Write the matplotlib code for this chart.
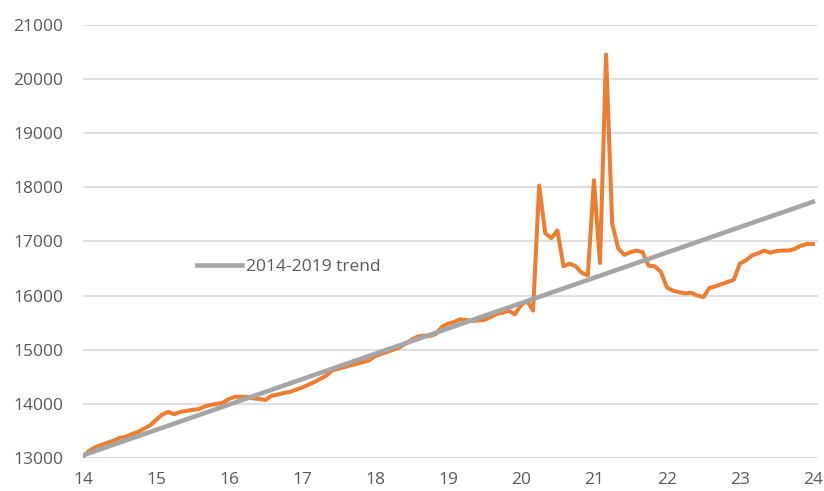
import numpy as np
import matplotlib
matplotlib.use('Agg')
from matplotlib import pyplot as plt

# monthly values, Jan 2014 .. Jan 2024 (x axis in years, 14 = 2014)
actual = [
    13024, 13130, 13200, 13240, 13280, 13320, 13370, 13390, 13440, 13480, 13540, 13600,
    13700, 13800, 13850, 13810, 13850, 13870, 13890, 13900, 13950, 13980, 14000, 14020,
    14090, 14130, 14130, 14130, 14100, 14090, 14070, 14150, 14170, 14200, 14220, 14260,
    14300, 14350, 14400, 14460, 14520, 14620, 14650, 14680, 14710, 14740, 14770, 14800,
    14880, 14920, 14960, 15000, 15040, 15110, 15180, 15240, 15260, 15250, 15290, 15420,
    15480, 15510, 15560, 15550, 15530, 15540, 15550, 15600, 15660, 15680, 15720, 15650,
    15820, 15900, 15720, 18030, 17150, 17060, 17200, 16540, 16590, 16540, 16420, 16370,
    18130, 16600, 20450, 17330, 16870, 16750, 16800, 16830, 16800, 16550, 16540, 16440,
    16150, 16090, 16060, 16040, 16050, 16000, 15970, 16140, 16170, 16210, 16250, 16290,
    16590, 16650, 16740, 16780, 16830, 16790, 16820, 16830, 16830, 16860, 16920, 16950,
    16950,
]
trend_years = [14, 24]
trend_values = [13050, 17730]
trend_label = '2014-2019 trend'

y_ticks = [13000, 14000, 15000, 16000, 17000, 18000, 19000, 20000, 21000]
x_ticks = [14, 15, 16, 17, 18, 19, 20, 21, 22, 23, 24]

months = 14 + np.arange(len(actual)) / 12.0

plt.rcParams['font.family'] = ['Open Sans', 'DejaVu Sans']

fig = plt.figure(figsize=(8.24, 4.91), dpi=100)
ax = fig.add_axes([0.1007, 0.0672, 0.892, 0.8825])

ax.plot(months, actual, color='#ED7D31', lw=2.9, solid_joinstyle='round', zorder=2)
ax.plot(trend_years, trend_values, color='#A5A5A5', lw=3.3, label=trend_label, zorder=3)

ax.set_xlim(14, 24.07)
ax.set_ylim(13000, 21000)
ax.set_xticks(x_ticks)
ax.set_yticks(y_ticks)
ax.set_xticklabels([str(t) for t in x_ticks])
ax.set_yticklabels([str(t) for t in y_ticks])

ax.grid(axis='y', color='#D9D9D9', lw=1.2)
ax.set_axisbelow(True)
for s in ax.spines.values():
    s.set_visible(False)
ax.tick_params(axis='both', length=0, labelsize=12.5, colors='#595959')
ax.tick_params(axis='y', pad=14)
ax.tick_params(axis='x', pad=10)

ax.legend(loc='center left', bbox_to_anchor=(0.155, 0.4415), frameon=False,
          fontsize=12.5, handlelength=2.6, handletextpad=0.25,
          borderpad=0, borderaxespad=0, labelcolor='#595959')

plt.savefig('out.png')
